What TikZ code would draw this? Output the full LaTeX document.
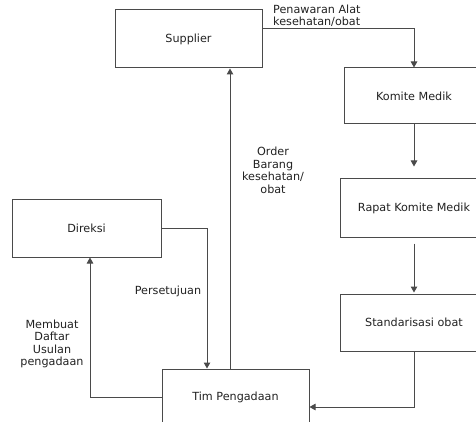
\documentclass[tikz,border=0pt]{standalone}
\usepackage{fontspec}
\setmainfont{DejaVu Sans}
\usetikzlibrary{arrows.meta}
\definecolor{linec}{HTML}{4A4A4A}
\definecolor{textc}{HTML}{222222}
\begin{document}
\begin{tikzpicture}[x=1pt,y=-1pt,
  every node/.style={font=\fontsize{11.2}{12.5}\selectfont, text=textc},
  box/.style={draw=linec, line width=1pt, inner sep=0pt, fill=white},
  conn/.style={draw=linec, line width=1pt, -{Triangle[width=6.5pt,length=6pt]}},
  lbl/.style={align=center, inner sep=0pt}]
\useasboundingbox (0,0) rectangle (476,422);
\clip (0,0) rectangle (476,422);
\fill[white] (0,0) rectangle (476,422);
% boxes
\node[box, minimum width=147pt, minimum height=58pt] (supplier) at (188.5,39) {Supplier};
\node[box, minimum width=140pt, minimum height=56pt] (komite) at (414,96) {Komite Medik};
\node[box, minimum width=148pt, minimum height=58pt] (rapat) at (414,208) {Rapat Komite Medik};
\node[box, minimum width=148pt, minimum height=57pt] (std) at (414,322.5) {Standarisasi obat};
\node[box, minimum width=147pt, minimum height=56pt] (tim) at (235.5,397) {Tim Pengadaan};
\node[box, minimum width=149pt, minimum height=58pt] (direksi) at (86.5,228) {Direksi};
% helper coordinates
\coordinate (ox) at (230,0);
\coordinate (px) at (207,0);
\coordinate (mx) at (90,0);
% connectors
\draw[conn] (supplier.north east) ++(0,19) -| (komite.north);
\draw[conn, shorten >=12pt] (komite.south) -- (rapat.north);
\draw[conn, shorten <=6pt, shorten >=1pt] (rapat.south) -- (std.north);
\draw[conn] (std.south) |- ([yshift=-10pt]tim.east);
\draw[conn] (tim.north -| ox) -- (supplier.south -| ox);
\draw[conn] (direksi.east) -| (tim.north -| px);
\draw[conn] (tim.west) -| (direksi.south -| mx);
% labels
\node[lbl, anchor=west, align=left] (lpen) at (273,16) {Penawaran Alat\\kesehatan/obat};
\node[lbl] (lorder) at (273,170.5) {Order\\Barang\\kesehatan/\\obat};
\node[lbl] (lpers) at (168,291) {Persetujuan};
\node[lbl] (lmem) at (52,344) {Membuat\\Daftar\\Usulan\\pengadaan};
\end{tikzpicture}
\end{document}
